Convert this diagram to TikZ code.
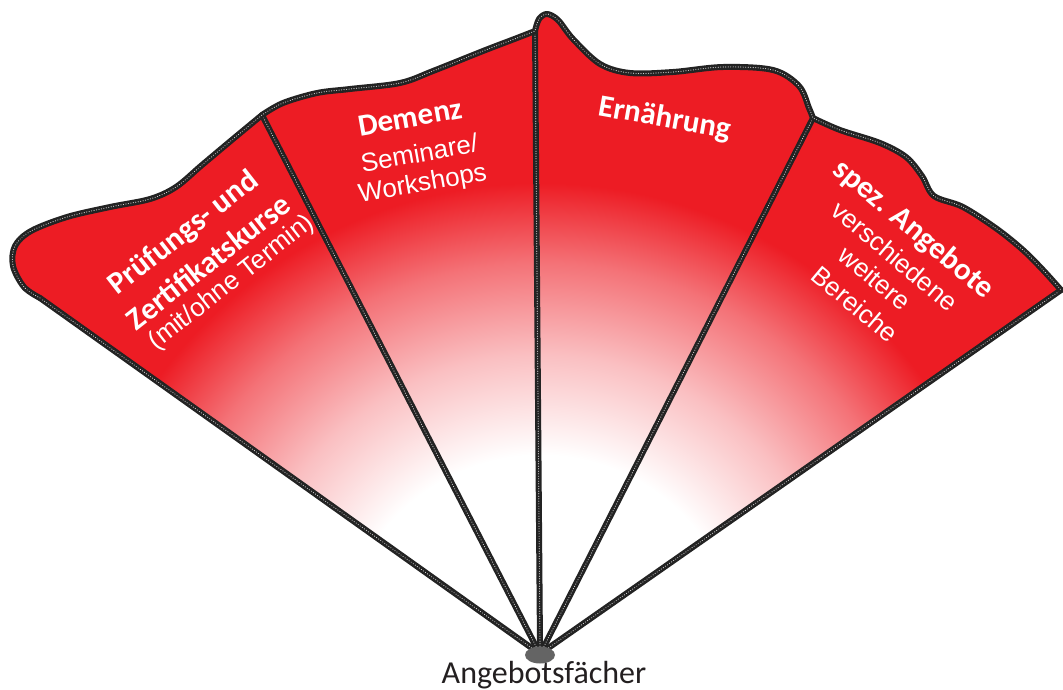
\documentclass[tikz,border=0pt]{standalone}
\usepackage{fontspec}
\setmainfont{Carlito}
\newfontfamily\arialf{Liberation Sans}
\usetikzlibrary{shapes.geometric,backgrounds}
\definecolor{fanred}{RGB}{237,28,36}
\definecolor{rimdark}{RGB}{35,35,35}
\definecolor{hubgray}{RGB}{100,100,100}
\definecolor{labelgray}{RGB}{35,31,32}
\pgfdeclareradialshading{fanshade}{\pgfpointorigin}{color(0bp)=(white); color(5bp)=(white); color(7.5bp)=(fanred!28!white); color(9.8bp)=(fanred!62!white); color(11.8bp)=(fanred); color(50bp)=(fanred)}
\def\fantop{(c1) -- plot[smooth,tension=.55] coordinates {(c1) (24,287) (13,266) (15,246) (31,231) (67,217) (110,207) (150,199) (176,187) (202,165) (233,139) (c2)}
 -- plot[smooth,tension=.55] coordinates {(c2) (283,103) (317,93) (350,89) (400,83) (433,71) (483,51) (517,38) (c3)}
 -- plot[smooth,tension=.55] coordinates {(c3) (539,19) (547,14) (558,20) (573,39) (600,64) (630,73) (673,72) (723,67) (773,70) (799,86) (809,108) (c4)}
 -- plot[smooth,tension=.55] coordinates {(c4) (840,130) (880,143) (906,157) (922,176) (934,196) (963,207) (997,229) (1023,250) (1043,270) (c5)}}
\begin{document}
\begin{tikzpicture}[x=1pt,y=-1pt,
  rim/.style={draw=rimdark, line width=6pt, line join=round, line cap=round},
  rimdots/.style={draw=white!80!black, line width=1.1pt, line cap=round, dash pattern=on 0.1pt off 2.4pt},
  boldlabel/.style={text=white, font=\bfseries\fontsize{31}{31}\selectfont, inner sep=0pt, anchor=base},
  thinlabel/.style={text=white, font=\arialf\fontsize{26}{26}\selectfont, inner sep=0pt, anchor=base}]
\useasboundingbox (0,0) rectangle (1063,689);
\coordinate (c1) at (40,298);
\coordinate (c2) at (262,115);
\coordinate (c3) at (535,31);
\coordinate (c4) at (813,118);
\coordinate (c5) at (1061,290);
\node[ellipse, fill=hubgray, minimum width=30pt, minimum height=17pt, inner sep=0pt] (hub) at (540,655) {};
\begin{pgfonlayer}{background}
 \begin{scope}
  \clip \fantop -- (hub.center) -- cycle;
  \shade[shading=fanshade] (hub.center) circle (1000pt);
 \end{scope}
 \foreach \a/\c in {140/c1,115/c2,90/c3,65/c4,40/c5} {
   \draw[rim] (hub.\a) -- (\c);
   \draw[rimdots] (hub.\a) -- (\c);
 }
 \draw[rim] \fantop;
 \draw[rimdots] \fantop;
\end{pgfonlayer}
\node[boldlabel, rotate=38] (pr1) at (189,240) {Prüfungs- und};
\node[boldlabel, rotate=38] (pr2) at (215,270) {Zertifikatskurse};
\node[thinlabel, rotate=38] (pr3) at (236,288) {(mit/ohne Termin)};
\node[boldlabel, rotate=10] (de1) at (412,127) {Demenz};
\node[thinlabel, rotate=10] (de2) at (421,162) {Seminare/};
\node[thinlabel, rotate=10] (de3) at (424,191) {Workshops};
\node[boldlabel, rotate=-10] (er) at (663,127) {Ernährung};
\node[boldlabel, rotate=-40] (sp1) at (908,236) {spez. Angebote};
\node[thinlabel, rotate=-40] (sp2) at (889,263) {verschiedene};
\node[thinlabel, rotate=-40] (sp3) at (869,285) {weitere};
\node[thinlabel, rotate=-40] (sp4) at (849,311) {Bereiche};
\node[font=\fontsize{32}{32}\selectfont, text=labelgray, anchor=base, inner sep=0pt] (cap) at (544,683) {Angebotsfächer};
\end{tikzpicture}
\end{document}
